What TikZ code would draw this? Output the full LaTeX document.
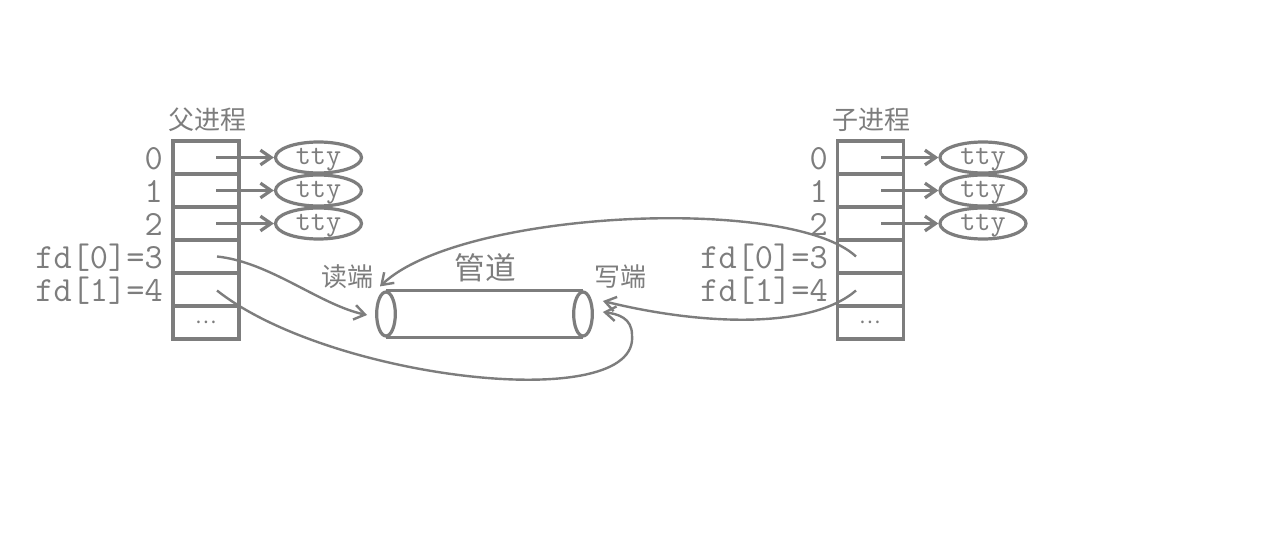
\documentclass[tikz,border=0pt]{standalone}
\usepackage{fontspec}
\newfontfamily\cjk{Noto Sans CJK SC}
\usetikzlibrary{arrows.meta,shapes.geometric}
\definecolor{ink}{RGB}{125,125,125}
\begin{document}
\begin{tikzpicture}[x=0.75pt,y=-0.75pt,
  cell/.style={draw=ink, line width=2.5pt, minimum width=49.5pt, minimum height=24.75pt, inner sep=0pt},
  lbl/.style={text=ink, font=\fontsize{26.5}{26.5}\ttfamily, anchor=base east, inner sep=0pt},
  ttynode/.style={draw=ink, text=ink, ellipse, line width=2.4pt, minimum width=64.5pt, minimum height=23.25pt, inner sep=0pt, text depth=0.12em, font=\fontsize{22}{22}\ttfamily},
  head/.style={text=ink, font=\fontsize{19.5}{19.5}\cjk, inner sep=0pt},
  pipeend/.style={draw=ink, ellipse, line width=2.4pt, minimum width=14pt, minimum height=33pt, inner sep=0pt},
  tip/.style={-{Straight Barb[length=8pt,width=11pt]}},
  arr/.style={draw=ink, line width=2.4pt, tip},
  curv/.style={draw=ink, line width=1.8pt, tip},
  plain/.style={draw=ink, line width=2.4pt},
  dots/.style={text=ink, font=\fontsize{15}{15}\cjk, inner sep=0pt}
]
\useasboundingbox (0,0) rectangle (1281,542);
\fill[white] (0,0) rectangle (1281,542);

% tables
\foreach \i in {0,...,5} {
  \node[cell] (L\i) at (206,157.5+33*\i) {};
  \node[cell] (R\i) at (870.5,157.5+33*\i) {};
}
\node[dots] (Ld) at (L5.center) {…};
\node[dots] (Rd) at (R5.center) {…};

% headings
\node[head] (ph) at (207.5,120) {父进程};
\node[head] (ch) at (871.5,120) {子进程};

% labels
\foreach \side/\x in {L/163, R/828} {
  \node[lbl] (\side l0) at (\x,169.5) {0};
  \node[lbl] (\side l1) at (\x,202.5) {1};
  \node[lbl] (\side l2) at (\x,235.5) {2};
  \node[lbl] (\side l3) at (\x,268.5) {fd[0]=3};
  \node[lbl] (\side l4) at (\x,301.5) {fd[1]=4};
}

% tty
\foreach \i in {0,1,2} {
  \node[ttynode] (TL\i) at (318.5,157.5+33*\i) {tty};
  \node[ttynode] (TR\i) at (983,157.5+33*\i) {tty};
  \draw[arr] ([shift={(10,0)}]L\i.center) -- (TL\i.west);
  \draw[arr] ([shift={(10.5,0)}]R\i.center) -- (TR\i.west);
}

% pipe
\node[pipeend] (P1) at (386,314) {};
\node[pipeend] (P2) at (583,314) {};
\draw[plain] (P1.north) -- (P2.north);
\draw[plain] (P1.south) -- (P2.south);
\node[text=ink, font=\fontsize{23}{23}\cjk, inner sep=0pt] (pipe) at (485,268) {管道};
\node[head] (rd) at (347,277) {读端};
\node[head] (wr) at (620,277) {写端};

% connectors
\draw[curv] ([shift={(11,0)}]L3.center) .. controls (270,262) and (320,305) .. ([shift={(-8,1)}]P1.west);
\draw[curv] ([shift={(11,1)}]L4.center) .. controls (330,380) and (640,415) .. (632,335)
  .. controls (632,318) and (618,314) .. ([shift={(9,-2)}]P2.east);
\draw[curv] ([shift={(-14.5,0)}]R3.center) .. controls (790,195) and (460,210) .. ([shift={(-6,-4)}]P1.north);
\draw[curv] ([shift={(-14.5,1)}]R4.center) .. controls (810,330) and (700,325) .. ([shift={(9,-13)}]P2.east);
\end{tikzpicture}
\end{document}
